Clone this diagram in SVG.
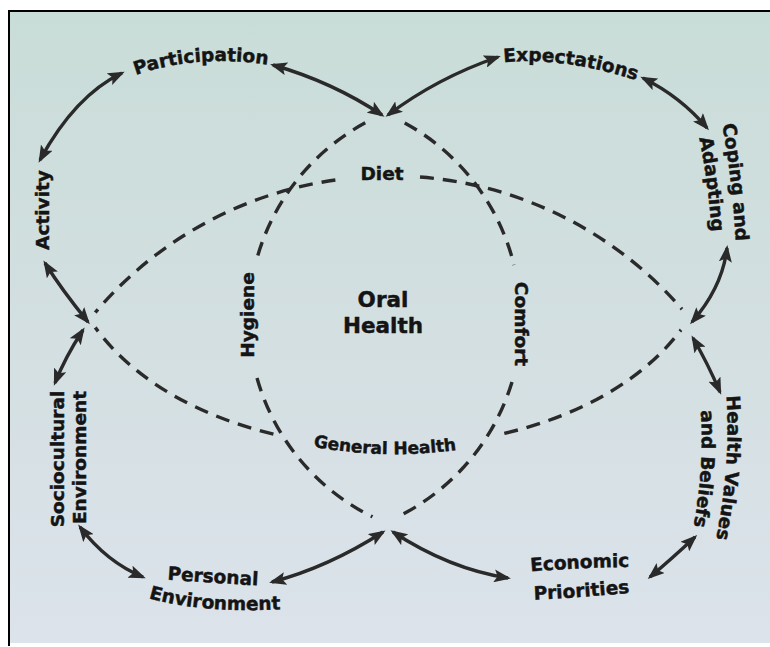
<svg xmlns="http://www.w3.org/2000/svg" width="770" height="647" viewBox="0 0 770 647">
<defs>
  <linearGradient id="bg" x1="0" y1="0" x2="0" y2="1">
    <stop offset="0" stop-color="#c9ddd8"/>
    <stop offset="0.5" stop-color="#d3dfe1"/>
    <stop offset="1" stop-color="#dce3eb"/>
  </linearGradient>
  <marker id="ah" viewBox="0 0 17 13" refX="14" refY="6.5" markerWidth="17" markerHeight="13" markerUnits="userSpaceOnUse" orient="auto-start-reverse">
    <path d="M0,0 L17,6.5 L0,13 L3.5,6.5 Z" fill="#2a2a2a"/>
  </marker>
  <mask id="hubs" maskUnits="userSpaceOnUse" x="0" y="0" width="770" height="647">
    <rect width="770" height="647" fill="#fff"/>
    <circle cx="385" cy="113" r="14" fill="#000"/>
    <circle cx="89" cy="320" r="10" fill="#000"/>
    <circle cx="691" cy="320" r="14" fill="#000"/>
    <circle cx="385" cy="523" r="14" fill="#000"/>
  </mask>
  <path id="tp-part" d="M128,78 Q194,52 276,66"/>
  <path id="tp-exp" d="M498,63 Q560,55 642,82"/>
  <path id="tp-cop1" d="M721,118 Q733,180 736,248"/>
  <path id="tp-cop2" d="M698,132 Q709,185 712,238"/>
  <path id="tp-hv1" d="M726,390 Q732,462 715,545"/>
  <path id="tp-hv2" d="M700,402 Q706,462 692,535"/>
  <path id="tp-eco1" d="M524,572 Q580,567 636,567"/>
  <path id="tp-eco2" d="M526,600 Q580,598 638,592"/>
  <path id="tp-per1" d="M158,579 Q212,583 268,586"/>
  <path id="tp-per2" d="M145,597 Q200,614 285,609"/>
  <path id="tp-soc1" d="M64,545 L64,373"/>
  <path id="tp-soc2" d="M86,540 L86,375"/>
  <path id="tp-act" d="M49,265 L49,155"/>
  <path id="tp-hyg" d="M254,372 L254,258"/>
  <path id="tp-com" d="M515,268 L515,380"/>
  <path id="tp-gen" d="M300,444 Q385,462 470,448"/>
</defs>
<style>
  .lbl{font-family:"DejaVu Sans","Liberation Sans",sans-serif;font-weight:bold;font-size:18.5px;fill:#141414;stroke:#141414;stroke-width:0.45px;}
  .big{font-size:21.5px;}
  .sm{font-size:17px;}
  .arrow{fill:none;stroke:#2a2a2a;stroke-width:3.4;marker-start:url(#ah);marker-end:url(#ah);}
  .dash{fill:none;stroke:#2a2a2a;stroke-width:3.4;stroke-dasharray:14 9;}
</style>

<rect x="0" y="0" width="770" height="647" fill="#ffffff"/>
<rect x="9" y="11" width="761" height="632" fill="url(#bg)"/>
<path d="M9,646 V11 H770" fill="none" stroke="#000" stroke-width="2"/>

<g id="connectors">
  <g id="dashed" mask="url(#hubs)">
    <path class="dash" d="M386,113 A222,222 0 0 0 256,262"/>
    <path class="dash" d="M257,378 A222,222 0 0 0 386,523"/>
    <path class="dash" d="M384,113 A222,222 0 0 1 514,265"/>
    <path class="dash" d="M512,382 A222,222 0 0 1 384,523"/>
    <path class="dash" d="M89,320 A386,386 0 0 1 343,179"/>
    <path class="dash" d="M420,177 A386,386 0 0 1 691,320"/>
    <path class="dash" d="M90,320 C128.8,378.3 198,416.6 276.8,434.9"/>
    <path class="dash" d="M688,320 C649.2,378.3 580,416.6 498,434.9"/>
  </g>
  <g id="arrows">
    <path class="arrow" d="M122,73 Q75,95.5 40,160"/>
    <path class="arrow" d="M273,65 Q332.5,82 382,115"/>
    <path class="arrow" d="M388,115 Q437,78 498,57"/>
    <path class="arrow" d="M643,78 Q681,97 707,128"/>
    <path class="arrow" d="M727,248 Q722.5,287 692,322"/>
    <path class="arrow" d="M45,263 Q61.5,289.5 88,322"/>
    <path class="arrow" d="M83,330 Q65,357.5 55,383"/>
    <path class="arrow" d="M80,527 Q106.5,562 143,577"/>
    <path class="arrow" d="M272,582 Q328.5,567 383,532"/>
    <path class="arrow" d="M393,532 Q449.5,569 508,578"/>
    <path class="arrow" d="M650,577 Q671.5,559 695,537"/>
    <path class="arrow" d="M720,392 Q707.5,363 693,338"/>
  </g>
</g>

<g id="oral-health">
  <text class="lbl big" x="383" y="307" text-anchor="middle">Oral</text>
  <text class="lbl big" x="383" y="333" text-anchor="middle">Health</text>
</g>
<g id="diet"><text class="lbl" x="382" y="180" text-anchor="middle">Diet</text></g>
<g id="hygiene"><text class="lbl"><textPath href="#tp-hyg" startOffset="50%" text-anchor="middle">Hygiene</textPath></text></g>
<g id="comfort"><text class="lbl"><textPath href="#tp-com" startOffset="50%" text-anchor="middle">Comfort</textPath></text></g>
<g id="general-health"><text class="lbl sm"><textPath href="#tp-gen" startOffset="50%" text-anchor="middle">General Health</textPath></text></g>
<g id="participation"><text class="lbl"><textPath href="#tp-part" startOffset="50%" text-anchor="middle">Participation</textPath></text></g>
<g id="expectations"><text class="lbl"><textPath href="#tp-exp" startOffset="50%" text-anchor="middle">Expectations</textPath></text></g>
<g id="coping-adapting">
  <text class="lbl"><textPath href="#tp-cop1" startOffset="50%" text-anchor="middle">Coping and</textPath></text>
  <text class="lbl"><textPath href="#tp-cop2" startOffset="50%" text-anchor="middle">Adapting</textPath></text>
</g>
<g id="health-values">
  <text class="lbl"><textPath href="#tp-hv1" startOffset="50%" text-anchor="middle">Health Values</textPath></text>
  <text class="lbl"><textPath href="#tp-hv2" startOffset="50%" text-anchor="middle">and Beliefs</textPath></text>
</g>
<g id="economic-priorities">
  <text class="lbl"><textPath href="#tp-eco1" startOffset="50%" text-anchor="middle">Economic</textPath></text>
  <text class="lbl"><textPath href="#tp-eco2" startOffset="50%" text-anchor="middle">Priorities</textPath></text>
</g>
<g id="personal-environment">
  <text class="lbl"><textPath href="#tp-per1" startOffset="50%" text-anchor="middle">Personal</textPath></text>
  <text class="lbl"><textPath href="#tp-per2" startOffset="50%" text-anchor="middle">Environment</textPath></text>
</g>
<g id="sociocultural-environment">
  <text class="lbl"><textPath href="#tp-soc1" startOffset="50%" text-anchor="middle">Sociocultural</textPath></text>
  <text class="lbl"><textPath href="#tp-soc2" startOffset="50%" text-anchor="middle">Environment</textPath></text>
</g>
<g id="activity"><text class="lbl"><textPath href="#tp-act" startOffset="50%" text-anchor="middle">Activity</textPath></text></g>
</svg>
